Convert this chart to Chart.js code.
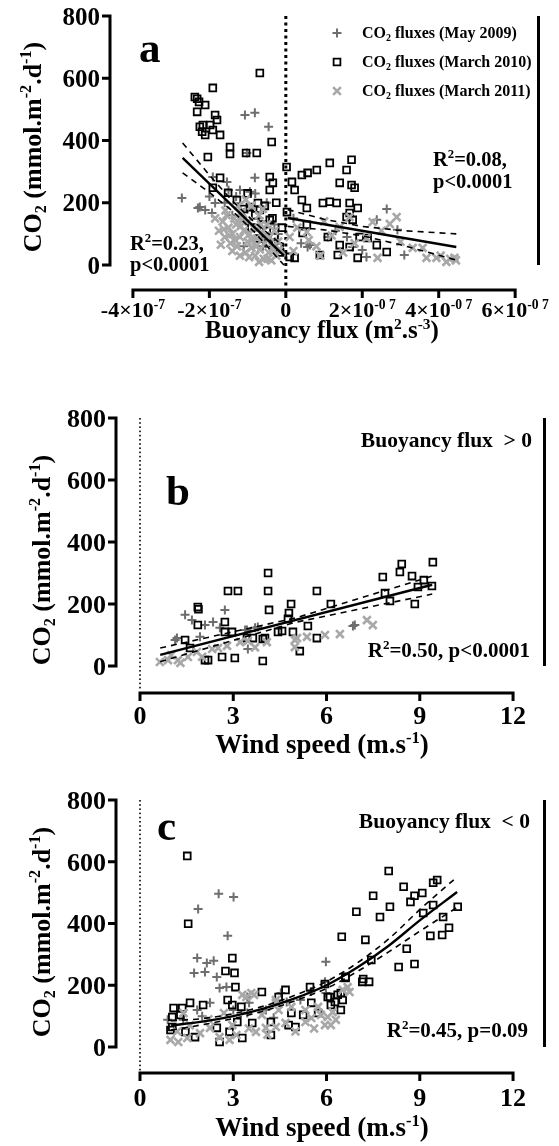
<!DOCTYPE html>
<html>
<head>
<meta charset="utf-8">
<script src="https://cdn.jsdelivr.net/npm/chart.js@4.4.0/dist/chart.umd.min.js"></script>
<style>
  body { margin: 0; background: #fff; width: 559px; height: 1146px; position: relative; overflow: hidden; }
  .panel { position: absolute; left: 0; width: 559px; }
</style>
</head>
<body>
<div class="panel" style="top:0;height:360px"><canvas id="chartA"></canvas></div>
<div class="panel" style="top:380px;height:380px"><canvas id="chartB"></canvas></div>
<div class="panel" style="top:760px;height:386px"><canvas id="chartC"></canvas></div>
<script>
// ---- data ----
// panel a : x = buoyancy flux in units of 1e-7 m2.s-3, y = CO2 flux (mmol.m-2.d-1)
const aMay2009 = [[-2.72,215],[-2.25,186],[-2.11,177],[-1.93,167],[-1.07,482],[-0.81,489],[-0.45,444],[-1.02,360],
  [-0.81,280],[-1.91,283],[-1.54,267],[-1.20,241],[-0.94,235],[-2.30,183],[-1.85,199],[-1.60,200],[-1.30,220],
  [-1.00,180],[-0.70,150],[-0.50,200],[-1.40,160],[-0.30,130],[-0.60,60],[-1.10,60],[-0.20,100],[-1.50,240],
  [-0.80,230],[-2.00,220],[0.20,150],[0.40,70],[0.57,58],[0.63,64],[1.10,90],[1.30,110],[1.60,90],[1.75,58],
  [2.00,48],[2.11,26],[2.38,145],[2.64,180],[2.92,113],[3.10,32]];
const aMar2010 = [[-2.38,540],[-2.32,534],[-2.27,524],[-2.11,514],[-1.91,569],[-2.32,492],[-1.85,482],[-1.80,466],
  [-2.25,444],[-2.17,450],[-1.98,450],[-2.19,428],[-1.91,434],[-1.72,418],[-2.11,418],[-1.46,379],[-1.46,357],
  [-1.04,360],[-0.76,360],[-2.04,347],[-0.68,617],[-0.37,395],[-1.72,280],[-0.42,283],[-0.34,264],[-0.42,241],
  [-1.91,248],[-1.51,232],[-1.28,209],[-0.94,186],[-0.73,199],[-0.68,177],[-0.42,145],[-0.60,130],[-0.50,110],
  [-0.30,90],[-0.20,60],[-0.35,150],[-0.80,160],[-0.15,40],[-0.45,70],[-0.10,120],[-0.25,200],[-0.55,190],
  [-1.00,230],[-1.10,180],[-0.90,120],[-0.70,85],[0.02,315],[0.16,267],[0.42,289],[0.57,296],[0.81,305],
  [1.15,328],[1.72,338],[1.59,305],[0.23,241],[0.42,209],[0.55,183],[0.97,199],[1.15,203],[1.33,199],[1.67,199],
  [1.88,183],[1.41,264],[1.72,257],[1.80,248],[1.67,167],[1.75,145],[1.59,154],[0.03,170],[0.55,129],[0.44,103],
  [1.10,90],[1.93,90],[2.14,87],[2.38,64],[2.64,42],[1.41,64],[1.67,58],[1.36,32],[1.88,23],[0.89,32],[0.10,26],
  [0.23,23],[-0.16,58]];
const aMar2011 = [[-1.75,110],[-1.65,140],[-1.60,90],[-1.55,160],[-1.50,120],[-1.45,70],[-1.40,100],[-1.35,150],
  [-1.30,130],[-1.28,60],[-1.20,90],[-1.15,170],[-1.10,110],[-1.05,40],[-1.00,75],[-0.98,140],[-0.95,100],
  [-0.90,55],[-0.85,120],[-0.80,30],[-0.75,85],[-0.70,160],[-0.68,50],[-0.62,105],[-0.58,20],[-0.55,70],
  [-0.50,130],[-0.45,40],[-0.42,90],[-0.38,15],[-0.35,60],[-0.30,110],[-0.25,30],[-0.20,75],[-0.15,50],
  [-1.25,190],[-1.40,45],[-1.70,65],[-0.90,190],[-1.05,210],[-0.60,180],[-1.85,150],[-1.20,30],[-0.70,10],
  [-1.62,115],[-1.48,95],[-1.33,80],[-1.18,125],[-1.12,145],[-0.88,80],[-0.78,60],[-0.65,130],[-0.52,95],
  [-0.48,20],[-0.32,45],[-1.22,150],[-0.96,25],[-1.58,175],
  [0.10,90],[0.30,120],[0.55,106],[0.60,80],[0.80,60],[1.00,140],[1.20,95],[1.41,122],[1.50,40],[1.67,154],
  [1.80,70],[2.11,87],[2.27,138],[2.40,23],[2.50,110],[2.72,132],[2.90,154],[3.00,75],[3.32,55],[3.58,55],
  [3.68,23],[3.94,23],[4.05,30],[4.20,10],[4.30,20],[4.41,23],[4.45,15],[0.20,45],[0.90,30]];
const aFitNeg = [[-2.70,344],[-0.05,30]];
const aFitNegUpper = [[-2.70,392],[-2.00,289],[-1.40,206],[-0.80,135],[-0.05,60]];
const aFitNegLower = [[-2.70,296],[-2.00,233],[-1.40,174],[-0.80,103],[-0.05,0]];
const aFitPos = [[0.05,151],[4.46,58]];
const aFitPosUpper = [[0.05,178],[1.00,147],[2.00,124],[3.00,111],[4.46,100]];
const aFitPosLower = [[0.05,124],[1.00,113],[2.00,94],[3.00,65],[4.46,16]];

// panel b : x = wind speed (m.s-1), buoyancy flux > 0
const bMay2009 = [[1.45,165],[1.67,148],[2.09,132],[2.35,142],[2.73,181],[1.19,90],[1.93,94],[3.44,116],
  [3.79,126],[1.13,84],[3.47,55],[2.57,123],[3.38,116],[3.70,123],[6.85,129],[6.91,132]];
const bMar2010 = [[4.12,300],[4.12,242],[4.15,181],[1.86,190],[1.88,183],[1.86,132],[2.83,242],[3.15,242],
  [1.45,84],[2.73,142],[2.96,110],[3.63,90],[4.02,90],[4.44,110],[5.69,242],[4.86,200],[4.79,171],[4.76,152],
  [6.14,200],[5.40,129],[4.92,110],[4.57,113],[5.69,90],[5.14,48],[3.95,16],[3.05,26],[2.64,29],[2.19,19],
  [2.09,19],[1.61,58],[3.44,90],[3.95,87],[2.73,110],[9.42,335],[8.42,329],[8.36,303],[8.75,290],[7.81,287],
  [9.13,277],[8.94,255],[9.39,258],[7.88,235],[8.04,210],[8.84,200]];
const bMar2011 = [[0.64,13],[0.90,19],[1.22,19],[1.54,29],[1.83,45],[2.32,55],[2.51,58],[3.22,77],[3.47,81],
  [4.08,77],[4.98,84],[5.37,94],[5.95,100],[6.43,103],[7.30,148],[7.49,132],[5.05,90],[4.98,61],[1.00,35],
  [1.30,10],[2.00,30],[2.80,65],[3.70,60]];
const bFit = [[0.65,36],[9.40,262]];
const bFitUpper = [[0.65,58],[5.00,155],[9.40,290]];
const bFitLower = [[0.65,14],[5.00,141],[9.40,232]];

// panel c : x = wind speed (m.s-1), buoyancy flux < 0
const cMay2009 = [[2.53,496],[3.01,486],[1.87,447],[2.82,360],[1.84,288],[2.15,272],[2.37,279],[1.74,240],
  [2.09,243],[2.47,227],[2.56,191],[2.78,194],[3.45,162],[5.98,276],[5.95,211],[3.51,143],[3.45,110],[4.05,120],
  [4.53,175],[4.72,146],[5.16,152],[5.98,175],[1.84,120],[2.25,143],[0.89,88],[1.39,88],[2.00,100],[3.00,120],
  [4.30,95],[5.50,180]];
const cMar2010 = [[1.52,619],[1.55,399],[2.97,288],[2.75,246],[3.04,240],[3.07,194],[3.92,178],[1.08,126],
  [1.36,126],[1.61,143],[2.03,136],[2.82,152],[2.97,136],[8.00,570],[8.48,519],[7.50,490],[9.43,532],[9.56,541],
  [9.08,499],[8.83,490],[8.70,470],[8.04,454],[7.72,421],[6.96,438],[9.43,460],[10.22,454],[9.11,434],[9.75,421],
  [9.94,386],[9.72,363],[9.34,360],[6.49,357],[7.25,347],[8.58,318],[7.44,282],[8.32,259],[8.83,269],[6.61,227],
  [7.18,220],[7.37,211],[5.47,194],[5.95,204],[6.11,162],[6.36,169],[6.52,152],[6.14,136],[4.68,185],[1.04,97],
  [1.30,104],[1.04,65],[0.98,55],[1.46,49],[1.77,32],[2.56,16],[2.88,49],[3.29,29],[2.47,62],[3.13,81],[3.61,78],
  [4.21,81],[4.78,71],[5.00,65],[4.21,39],[3.26,130],[4.46,162],[6.04,162],[6.46,175],[6.27,146],[6.46,120],
  [6.61,224],[7.15,211],[5.51,143],[5.25,104],[5.73,110],[4.87,110]];
const cMar2011 = [[0.98,23],[1.23,16],[1.52,29],[1.93,45],[2.56,32],[2.88,23],[3.10,39],[3.73,49],[4.05,62],
  [4.37,65],[4.68,78],[5.32,81],[5.51,94],[5.82,104],[6.04,97],[6.20,113],[5.73,130],[5.32,120],[4.87,130],
  [4.46,120],[3.42,162],[3.58,175],[3.92,104],[2.97,71],[2.25,62],[5.95,71],[4.37,143],[6.52,185],[6.68,194],
  [6.30,88],[6.14,71],[3.29,169],[3.67,169],[4.37,152],[6.74,178],[1.20,50],[1.60,70],[2.20,90],[3.50,60],
  [4.10,40],[5.00,50],[5.60,60],[2.70,110],[1.40,110]];
const cFit = [[1,70],[2,82],[3,100],[4,125],[5,158],[6,200],[7,258],[8,328],[9,410],[10.2,502]];
const cFitUpper = [[1,85],[2,92],[3,108],[4,133],[5,168],[6,212],[7,273],[8,350],[9,445],[10.2,551]];
const cFitLower = [[1,55],[2,72],[3,92],[4,117],[5,150],[6,190],[7,245],[8,308],[9,375],[10.2,452]];

// ticks
const yTickValues = [0, 200, 400, 600, 800];
const yTickLabels = ['0', '200', '400', '600', '800'];
const aTickValues = [-4, -2, 0, 2, 4, 6];
const aTickLabels = ['-4×10^{-7}', '-2×10^{-7}', '0', '2×10^{-0 7}', '4×10^{-0 7}', '6×10^{-0 7}'];
const windTickValues = [0, 3, 6, 9, 12];
const windTickLabels = ['0', '3', '6', '9', '12'];
const legendLabels = ['CO_{2} fluxes (May 2009)', 'CO_{2} fluxes (March 2010)', 'CO_{2} fluxes (March 2011)'];

// ---- drawing helpers ----
const FONT = '"Liberation Serif", "Times New Roman", serif';
const styles = [
  { pointStyle: 'cross', radius: 4.5, color: '#6e6e6e', width: 2 },
  { pointStyle: 'rect', radius: 4.8, color: '#000000', width: 1.8 },
  { pointStyle: 'crossRot', radius: 5.5, color: '#a8a8a8', width: 2.6 }
];

const toXY = arr => arr.map(p => ({ x: p[0], y: p[1] }));

// "a^{b}" superscript, "a_{b}" subscript
function parseRich(s) {
  return s.split(/(\^\{[^}]*\}|_\{[^}]*\})/).filter(Boolean).map(t => {
    if (t.startsWith('^{')) return { t: t.slice(2, -1), m: 1 };
    if (t.startsWith('_{')) return { t: t.slice(2, -1), m: -1 };
    return { t: t, m: 0 };
  });
}

function drawRich(ctx, s, x, y, size, align) {
  const parts = parseRich(s);
  let w = 0;
  parts.forEach(p => {
    ctx.font = 'bold ' + (p.m ? size * 0.62 : size) + 'px ' + FONT;
    p.w = ctx.measureText(p.t).width;
    w += p.w;
  });
  let cx = align === 'center' ? x - w / 2 : align === 'right' ? x - w : x;
  ctx.textAlign = 'left';
  ctx.textBaseline = 'alphabetic';
  parts.forEach(p => {
    ctx.font = 'bold ' + (p.m ? size * 0.62 : size) + 'px ' + FONT;
    const dy = p.m === 1 ? -size * 0.38 : p.m === -1 ? size * 0.2 : 0;
    ctx.fillText(p.t, cx, y + dy);
    cx += p.w;
  });
}

function drawMarker(ctx, st, x, y) {
  ctx.save();
  ctx.strokeStyle = st.color;
  ctx.lineWidth = st.width;
  ctx.beginPath();
  if (st.pointStyle === 'rect') {
    const s = Math.SQRT1_2 * st.radius;
    ctx.rect(x - s, y - s, 2 * s, 2 * s);
  } else if (st.pointStyle === 'cross') {
    ctx.moveTo(x - st.radius, y); ctx.lineTo(x + st.radius, y);
    ctx.moveTo(x, y - st.radius); ctx.lineTo(x, y + st.radius);
  } else {
    const d = Math.SQRT1_2 * st.radius;
    ctx.moveTo(x - d, y - d); ctx.lineTo(x + d, y + d);
    ctx.moveTo(x - d, y + d); ctx.lineTo(x + d, y - d);
  }
  ctx.stroke();
  ctx.restore();
}

// prism-like offset axes, drawn from the chart scales
const prismAxes = {
  id: 'prismAxes',
  beforeDatasetsDraw(chart, args, o) {
    const { ctx, chartArea: a, scales: { x, y } } = chart;
    const px0 = x.getPixelForValue(0);
    const top = y.getPixelForValue(o.yTicks[o.yTicks.length - 1]);
    ctx.save();
    ctx.fillStyle = '#000';
    for (let py = top; py < a.bottom - 3; py += o.dotGap) {
      ctx.fillRect(px0 - o.dotSize / 2, py, o.dotSize, o.dotSize);
    }
    ctx.restore();
  },
  afterDraw(chart, args, o) {
    const { ctx, chartArea: a, scales: { x, y } } = chart;
    const yTop = y.getPixelForValue(o.yTicks[o.yTicks.length - 1]);
    const yBot = y.getPixelForValue(o.yTicks[0]);
    const xL = x.getPixelForValue(o.xTicks[0]);
    const xR = x.getPixelForValue(o.xTicks[o.xTicks.length - 1]);
    ctx.save();
    ctx.strokeStyle = '#000';
    ctx.fillStyle = '#000';
    ctx.lineWidth = o.axisW;
    ctx.beginPath();
    ctx.moveTo(a.left, yTop - o.axisW / 2);
    ctx.lineTo(a.left, yBot + o.axisW / 2);
    o.yTicks.forEach(v => {
      const py = y.getPixelForValue(v);
      ctx.moveTo(a.left, py);
      ctx.lineTo(a.left - o.tickLen, py);
    });
    ctx.moveTo(xL - o.axisW / 2, a.bottom);
    ctx.lineTo(xR + o.axisW / 2, a.bottom);
    o.xTicks.forEach(v => {
      const px = x.getPixelForValue(v);
      ctx.moveTo(px, a.bottom);
      ctx.lineTo(px, a.bottom + o.tickLen);
    });
    ctx.stroke();

    // black bar on the right
    ctx.lineWidth = o.barW;
    ctx.beginPath();
    ctx.moveTo(a.right - o.barW / 2, yTop);
    ctx.lineTo(a.right - o.barW / 2, yBot);
    ctx.stroke();

    o.yTicks.forEach((v, i) => {
      drawRich(ctx, o.yLabels[i], a.left - o.tickLen - 2, y.getPixelForValue(v) + o.yTickSize * 0.34, o.yTickSize, 'right');
    });
    o.xTicks.forEach((v, i) => {
      drawRich(ctx, o.xLabels[i], x.getPixelForValue(v), a.bottom + o.xLabelDy, o.xTickSize, 'center');
    });

    drawRich(ctx, o.xTitle, o.xTitleX, a.bottom + o.xTitleDy, o.titleSize, 'center');
    ctx.save();
    ctx.translate(o.yTitleX, o.yTitleY);
    ctx.rotate(-Math.PI / 2);
    drawRich(ctx, o.yTitle, 0, 0, o.yTitleSize, 'center');
    ctx.restore();

    o.texts.forEach(t => drawRich(ctx, t.s, t.x, t.y, t.size, t.align || 'left'));

    if (o.legend) {
      o.legend.labels.forEach((lab, i) => {
        const cy = o.legend.y + i * o.legend.gap;
        drawMarker(ctx, styles[i], o.legend.markX, cy);
        drawRich(ctx, lab, o.legend.textX, cy + o.legend.size * 0.33, o.legend.size, 'left');
      });
    }
    ctx.restore();
  }
};

function scatterSet(pts, i) {
  const st = styles[i];
  return {
    data: toXY(pts),
    pointStyle: st.pointStyle,
    pointRadius: st.radius,
    pointBorderWidth: st.width,
    pointBorderColor: st.color,
    pointBackgroundColor: 'rgba(0,0,0,0)',
    order: 3 - i
  };
}

function lineSet(pts, dashed, curved) {
  return {
    data: toXY(pts),
    showLine: true,
    pointRadius: 0,
    borderColor: '#000',
    borderWidth: dashed ? 1.6 : 2.4,
    borderDash: dashed ? [6, 5] : [],
    tension: curved ? 0.4 : 0,
    cubicInterpolationMode: curved ? 'monotone' : 'default',
    order: 0
  };
}

function makeChart(id, datasets, xr, yr, padding, axes) {
  return new Chart(document.getElementById(id), {
    type: 'scatter',
    data: { datasets: datasets },
    options: {
      responsive: true,
      maintainAspectRatio: false,
      animation: false,
      events: [],
      layout: { padding: padding },
      scales: {
        x: { type: 'linear', display: false, min: xr[0], max: xr[1] },
        y: { type: 'linear', display: false, min: yr[0], max: yr[1] }
      },
      plugins: {
        legend: { display: false },
        tooltip: { enabled: false },
        prismAxes: axes
      }
    },
    plugins: [prismAxes]
  });
}

const yTitle = 'CO_{2} (mmol.m^{-2}.d^{-1})';
const windTitle = 'Wind speed (m.s^{-1})';

// panel a
makeChart('chartA', [
  lineSet(aFitNeg, false), lineSet(aFitNegUpper, true), lineSet(aFitNegLower, true),
  lineSet(aFitPos, false), lineSet(aFitPosUpper, true), lineSet(aFitPosLower, true),
  scatterSet(aMay2009, 0), scatterSet(aMar2010, 1), scatterSet(aMar2011, 2)
], [-4.60, 6.65], [-80.3, 800], { left: 110, right: 19, top: 16, bottom: 70 }, {
  yTicks: yTickValues, yLabels: yTickLabels, xTicks: aTickValues, xLabels: aTickLabels,
  axisW: 3, tickLen: 8, barW: 3, dotGap: 6.5, dotSize: 3,
  yTickSize: 25, xTickSize: 22, titleSize: 25, yTitleSize: 26, xLabelDy: 27, xTitleDy: 48, xTitleX: 322,
  yTitle: yTitle, yTitleX: 41, yTitleY: 147, xTitle: 'Buoyancy flux (m^{2}.s^{-3})',
  texts: [
    { s: 'a', x: 139, y: 62, size: 43 },
    { s: 'R^{2}=0.23,', x: 130, y: 250, size: 20.5 },
    { s: 'p<0.0001', x: 130, y: 271, size: 20.5 },
    { s: 'R^{2}=0.08,', x: 433, y: 166, size: 20.5 },
    { s: 'p<0.0001', x: 433, y: 188, size: 20.5 }
  ],
  legend: { labels: legendLabels, markX: 337, textX: 362, y: 33, gap: 29, size: 16 }
});

// panel b
makeChart('chartB', [
  lineSet(bFit, false), lineSet(bFitUpper, true), lineSet(bFitLower, true),
  scatterSet(bMay2009, 0), scatterSet(bMar2010, 1), scatterSet(bMar2011, 2)
], [-0.772, 13.06], [-87.1, 800], { left: 116, right: 13, top: 38, bottom: 67 }, {
  yTicks: yTickValues, yLabels: yTickLabels, xTicks: windTickValues, xLabels: windTickLabels,
  axisW: 3, tickLen: 8, barW: 3, dotGap: 4.2, dotSize: 1.6,
  yTickSize: 26, xTickSize: 26, titleSize: 27, yTitleSize: 26, xLabelDy: 31, xTitleDy: 60, xTitleX: 322,
  yTitle: yTitle, yTitleX: 50, yTitleY: 180, xTitle: windTitle,
  texts: [
    { s: 'b', x: 166, y: 125, size: 43 },
    { s: 'Buoyancy flux  > 0', x: 532, y: 67, size: 21.5, align: 'right' },
    { s: 'R^{2}=0.50, p<0.0001', x: 530, y: 277, size: 21, align: 'right' }
  ]
});

// panel c
makeChart('chartC', [
  lineSet(cFit, false, true), lineSet(cFitUpper, true, true), lineSet(cFitLower, true, true),
  scatterSet(cMay2009, 0), scatterSet(cMar2010, 1), scatterSet(cMar2011, 2)
], [-0.772, 13.06], [-84.2, 800], { left: 116, right: 13, top: 40, bottom: 73 }, {
  yTicks: yTickValues, yLabels: yTickLabels, xTicks: windTickValues, xLabels: windTickLabels,
  axisW: 3, tickLen: 8, barW: 3, dotGap: 4.2, dotSize: 1.6,
  yTickSize: 26, xTickSize: 26, titleSize: 27, yTitleSize: 26, xLabelDy: 33, xTitleDy: 63, xTitleX: 322,
  yTitle: yTitle, yTitleX: 50, yTitleY: 172, xTitle: windTitle,
  texts: [
    { s: 'c', x: 157, y: 80, size: 43 },
    { s: 'Buoyancy flux  < 0', x: 530, y: 68, size: 21.5, align: 'right' },
    { s: 'R^{2}=0.45, p=0.09', x: 528, y: 277, size: 21, align: 'right' }
  ]
});
</script>
</body>
</html>
